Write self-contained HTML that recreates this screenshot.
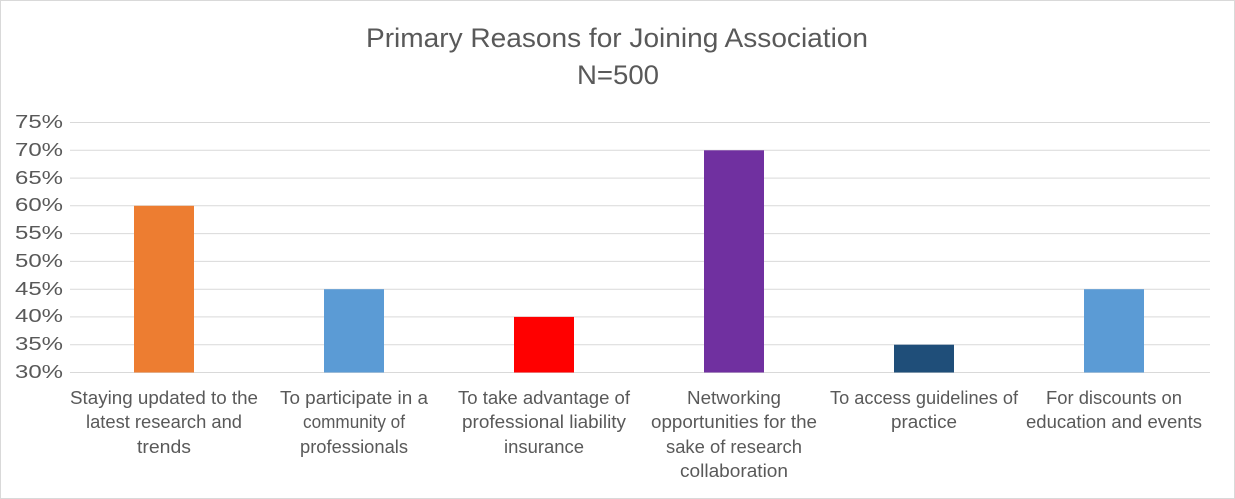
<!DOCTYPE html>
<html><head><meta charset="utf-8"><style>
html,body{margin:0;padding:0;background:#fff;}
svg{display:block;font-family:"Liberation Sans",Calibri,sans-serif;}
</style></head><body>
<svg width="1235" height="499" viewBox="0 0 1235 499" xmlns="http://www.w3.org/2000/svg">
<rect x="0.5" y="0.5" width="1234" height="498" fill="#fff" stroke="#d9d9d9"/>
<text x="366" y="47" font-size="27" fill="#595959" textLength="502" lengthAdjust="spacingAndGlyphs">Primary Reasons for Joining Association</text>
<text x="577" y="84" font-size="27" fill="#595959" textLength="82" lengthAdjust="spacingAndGlyphs">N=500</text>
<g stroke="#d9d9d9" stroke-width="1">
<line x1="70" x2="1210" y1="122.5" y2="122.5"/>
<line x1="70" x2="1210" y1="150.3" y2="150.3"/>
<line x1="70" x2="1210" y1="178.1" y2="178.1"/>
<line x1="70" x2="1210" y1="205.8" y2="205.8"/>
<line x1="70" x2="1210" y1="233.6" y2="233.6"/>
<line x1="70" x2="1210" y1="261.4" y2="261.4"/>
<line x1="70" x2="1210" y1="289.2" y2="289.2"/>
<line x1="70" x2="1210" y1="316.9" y2="316.9"/>
<line x1="70" x2="1210" y1="344.7" y2="344.7"/>
<line x1="70" x2="1210" y1="372.5" y2="372.5"/>
</g>
<g font-size="18" fill="#595959">
<text x="15" y="128" textLength="48" lengthAdjust="spacingAndGlyphs">75%</text>
<text x="15" y="156" textLength="48" lengthAdjust="spacingAndGlyphs">70%</text>
<text x="15" y="184" textLength="48" lengthAdjust="spacingAndGlyphs">65%</text>
<text x="15" y="211" textLength="48" lengthAdjust="spacingAndGlyphs">60%</text>
<text x="15" y="239" textLength="48" lengthAdjust="spacingAndGlyphs">55%</text>
<text x="15" y="267" textLength="48" lengthAdjust="spacingAndGlyphs">50%</text>
<text x="15" y="295" textLength="48" lengthAdjust="spacingAndGlyphs">45%</text>
<text x="15" y="322" textLength="48" lengthAdjust="spacingAndGlyphs">40%</text>
<text x="15" y="350" textLength="48" lengthAdjust="spacingAndGlyphs">35%</text>
<text x="15" y="378" textLength="48" lengthAdjust="spacingAndGlyphs">30%</text>
</g>
<rect x="134" y="205.8" width="60" height="166.7" fill="#ED7D31"/>
<rect x="324" y="289.2" width="60" height="83.3" fill="#5B9BD5"/>
<rect x="514" y="316.9" width="60" height="55.6" fill="#FF0000"/>
<rect x="704" y="150.3" width="60" height="222.2" fill="#7030A0"/>
<rect x="894" y="344.7" width="60" height="27.8" fill="#1F4E79"/>
<rect x="1084" y="289.2" width="60" height="83.3" fill="#5B9BD5"/>
<g font-size="18" fill="#595959" text-anchor="middle">
<text x="164" y="404" textLength="188" lengthAdjust="spacingAndGlyphs">Staying updated to the</text>
<text x="164" y="428" textLength="156" lengthAdjust="spacingAndGlyphs">latest research and</text>
<text x="164" y="453" textLength="54" lengthAdjust="spacingAndGlyphs">trends</text>
<text x="354" y="404" textLength="148" lengthAdjust="spacingAndGlyphs">To participate in a</text>
<text x="354" y="428" textLength="102" lengthAdjust="spacingAndGlyphs">community of</text>
<text x="354" y="453" textLength="108" lengthAdjust="spacingAndGlyphs">professionals</text>
<text x="544" y="404" textLength="172" lengthAdjust="spacingAndGlyphs">To take advantage of</text>
<text x="544" y="428" textLength="164" lengthAdjust="spacingAndGlyphs">professional liability</text>
<text x="544" y="453" textLength="80" lengthAdjust="spacingAndGlyphs">insurance</text>
<text x="734" y="404" textLength="94" lengthAdjust="spacingAndGlyphs">Networking</text>
<text x="734" y="428" textLength="166" lengthAdjust="spacingAndGlyphs">opportunities for the</text>
<text x="734" y="453" textLength="136" lengthAdjust="spacingAndGlyphs">sake of research</text>
<text x="734" y="477" textLength="108" lengthAdjust="spacingAndGlyphs">collaboration</text>
<text x="924" y="404" textLength="188" lengthAdjust="spacingAndGlyphs">To access guidelines of</text>
<text x="924" y="428" textLength="66" lengthAdjust="spacingAndGlyphs">practice</text>
<text x="1114" y="404" textLength="136" lengthAdjust="spacingAndGlyphs">For discounts on</text>
<text x="1114" y="428" textLength="176" lengthAdjust="spacingAndGlyphs">education and events</text>
</g>
</svg>
</body></html>
